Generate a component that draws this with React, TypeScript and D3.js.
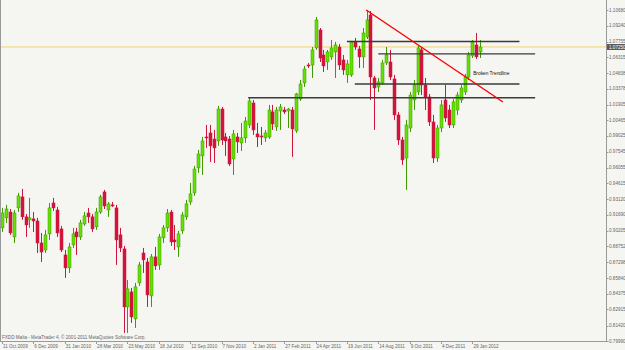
import React from "react";
import * as d3 from "d3";

const opens = [0.9048,0.9141,0.9195,0.8964,0.9233,0.9335,0.9150,0.9122,0.9131,0.9112,0.8908,0.8843,0.8992,0.9279,0.9214,0.9038,0.8797,0.8677,0.8890,0.9010,0.8964,0.9084,0.9186,0.9150,0.9057,0.9195,0.9381,0.9214,0.9261,0.9233,0.8983,0.8853,0.8315,0.8454,0.8204,0.8538,0.8815,0.8732,0.8417,0.8779,0.8704,0.8955,0.9048,0.9195,0.8936,0.8871,0.9020,0.9150,0.9288,0.9372,0.9604,0.9715,0.9891,0.9928,0.9872,0.9854,1.0150,0.9891,0.9872,0.9687,0.9891,0.9835,0.9882,1.0002,1.0206,0.9919,0.9900,0.9882,0.9891,1.0123,0.9984,1.0132,1.0141,1.0132,1.0141,0.9947,1.0243,1.0392,1.0558,1.0558,1.0716,1.0883,1.0651,1.0586,1.0633,1.0679,1.0725,1.0605,1.0466,1.0466,1.0772,1.0707,1.0633,1.0818,1.1022,1.0438,1.0354,1.0392,1.0577,1.0586,1.0429,1.0095,0.9863,0.9696,0.9974,1.0234,1.0308,1.0698,1.0373,1.0262,1.0030,0.9696,0.9974,1.0234,1.0141,1.0002,1.0141,1.0234,1.0308,1.0447,1.0642,1.0744,1.0679];
const highs = [0.9233,0.9261,0.9223,0.9214,0.9372,0.9409,0.9177,0.9326,0.9195,0.9141,0.9001,0.9029,0.9279,0.9326,0.9242,0.9066,0.8843,0.8908,0.9048,0.9048,0.9122,0.9195,0.9233,0.9177,0.9233,0.9354,0.9400,0.9288,0.9288,0.9261,0.9048,0.8881,0.8565,0.8491,0.8538,0.8732,0.8862,0.8769,0.8806,0.8871,0.8992,0.9075,0.9223,0.9214,0.9075,0.9020,0.9195,0.9307,0.9465,0.9622,0.9771,0.9891,1.0002,1.0002,0.9956,1.0178,1.0169,0.9928,0.9900,0.9956,0.9928,1.0021,1.0076,1.0253,1.0234,1.0021,0.9984,0.9956,1.0188,1.0188,1.0169,1.0197,1.0169,1.0160,1.0169,1.0299,1.0419,1.0549,1.0577,1.0725,1.1003,1.0901,1.0698,1.0698,1.0790,1.0772,1.0753,1.0651,1.0605,1.0781,1.0809,1.0735,1.0901,1.1068,1.1059,1.0456,1.0438,1.0605,1.0725,1.0698,1.0466,1.0123,0.9891,1.0049,1.0308,1.0419,1.0735,1.0725,1.0438,1.0290,1.0095,1.0002,1.0234,1.0373,1.0188,1.0243,1.0308,1.0373,1.0475,1.0679,1.0790,1.0855,1.0790];
const lows = [0.9010,0.9094,0.8983,0.8908,0.9195,0.9122,0.8964,0.9048,0.9010,0.8815,0.8732,0.8815,0.8936,0.9205,0.8964,0.8824,0.8584,0.8630,0.8862,0.8797,0.8936,0.9066,0.9094,0.9010,0.9029,0.9177,0.9223,0.9150,0.9242,0.8704,0.8824,0.8074,0.8074,0.8167,0.8120,0.8510,0.8630,0.8315,0.8315,0.8658,0.8658,0.8908,0.9010,0.8881,0.8843,0.8779,0.8992,0.9122,0.9261,0.9344,0.9557,0.9539,0.9789,0.9659,0.9650,0.9808,0.9817,0.9715,0.9622,0.9539,0.9743,0.9761,0.9835,0.9974,0.9910,0.9798,0.9817,0.9845,0.9872,0.9956,0.9947,0.9956,1.0104,0.9974,0.9706,0.9928,1.0225,1.0354,1.0531,1.0438,1.0698,1.0586,1.0494,1.0512,1.0605,1.0438,1.0512,1.0466,1.0392,1.0447,1.0698,1.0531,1.0531,1.0799,1.0234,0.9956,1.0308,1.0373,1.0558,1.0419,1.0049,0.9817,0.9631,0.9400,0.9937,1.0141,1.0280,1.0280,1.0141,0.9993,0.9650,0.9659,0.9937,1.0030,0.9974,0.9974,1.0095,1.0206,1.0280,1.0419,1.0623,1.0614,1.0623];
const closes = [0.9186,0.9223,0.9001,0.9186,0.9344,0.9150,0.9075,0.9141,0.9112,0.8908,0.8824,0.8983,0.9233,0.9233,0.9001,0.8843,0.8677,0.8871,0.8992,0.8964,0.9094,0.9159,0.9150,0.9038,0.9195,0.9335,0.9251,0.9270,0.9251,0.8936,0.8862,0.8315,0.8482,0.8222,0.8501,0.8704,0.8751,0.8426,0.8779,0.8695,0.8964,0.9048,0.9186,0.8918,0.8918,0.8992,0.9168,0.9270,0.9363,0.9594,0.9733,0.9854,0.9882,0.9808,0.9789,1.0150,0.9863,0.9854,0.9641,0.9919,0.9845,0.9882,1.0039,1.0225,0.9956,0.9891,0.9891,0.9928,1.0141,1.0012,1.0141,1.0169,1.0123,1.0150,0.9965,1.0290,1.0382,1.0521,1.0549,1.0698,1.0976,1.0623,1.0549,1.0679,1.0716,1.0744,1.0558,1.0512,1.0568,1.0772,1.0725,1.0633,1.0855,1.0976,1.0447,1.0345,1.0401,1.0577,1.0651,1.0447,1.0095,0.9863,0.9678,1.0002,1.0280,1.0373,1.0716,1.0373,1.0262,1.0030,0.9696,0.9974,1.0188,1.0067,1.0002,1.0216,1.0280,1.0345,1.0447,1.0651,1.0772,1.0633,1.0725];

const dateLabels = ["11 Oct 2009","6 Dec 2009","31 Jan 2010","28 Mar 2010","23 May 2010","18 Jul 2010","12 Sep 2010","7 Nov 2010","2 Jan 2011","27 Feb 2011","24 Apr 2011","19 Jun 2011","14 Aug 2011","9 Oct 2011","4 Dec 2011","29 Jan 2012"];
const dateLabelStep = 8;
const priceLabels = ["1.10680","1.09240","1.07755","1.06315","1.04838","1.03378","1.01905","1.00465","0.99025","0.97545","0.96055","0.94615","0.93120","0.91690","0.90205","0.88752","0.87298","0.85840","0.84375","0.82915","0.81420","0.79990"];
const bidPrice = 1.0725;
const bidLabel = "1.07250";

// support / resistance lines: [fromBar, toBar, price]
const hLines = [
  { from: 88, to: 132, price: 1.0776 },
  { from: 96, to: 136, price: 1.0661 },
  { from: 90, to: 132, price: 1.0382 },
  { from: 62.8, to: 136, price: 1.0255 },
];
const trendLine = { fromBar: 92.9, fromPrice: 1.1068, toBar: 127.8, toPrice: 1.0215 };
const noteText = { bar: 120.2, price: 1.0462, text: "Broken Trendline" };
const footer = "FXDD Malta - MetaTrader 4, © 2001-2011 MetaQuotes Software Corp.";

export default function App() {
  const W = 625, H = 350;
  const right = 606, bottom = 341;
  const x = d3.scaleLinear().domain([0, 122]).range([2, 2 + 3.92 * 122]);
  const y = d3.scaleLinear().domain([0.7999, 1.1068]).range([341, 10]);
  const font = "'Liberation Sans', Arial, sans-serif";
  const fs = 4.6;
  const bull = "#66e000", bullEdge = "#3f9a00", bear = "#d0143c";

  return (
    <div>
      <style>{`body{margin:0;}`}</style>
      <svg width={W} height={H} style={{ display: "block" }}>
        <rect x={0} y={0} width={W} height={H} fill="#f5f5f2" />
        {/* bid line */}
        <line x1={0} x2={right} y1={y(bidPrice)} y2={y(bidPrice)} stroke="#f5d36a" strokeWidth={1} />
        {/* candles */}
        {opens.map((o, i) => {
          const c = closes[i];
          const up = c >= o;
          const cx = Math.round(x(i)) + 0.5;
          const top = y(Math.max(o, c));
          const bot = y(Math.min(o, c));
          const col = up ? bull : bear;
          return (
            <g key={i}>
              <line x1={cx} x2={cx} y1={y(highs[i])} y2={y(lows[i])} stroke={up ? bullEdge : bear} strokeWidth={1} />
              <rect x={cx - 1.5} y={top} width={3} height={Math.max(1, bot - top)} fill={col} stroke={up ? bullEdge : bear} strokeWidth={0.5} />
            </g>
          );
        })}
        {/* horizontal lines */}
        {hLines.map((l, i) => (
          <line key={i} x1={x(l.from)} x2={x(l.to)} y1={y(l.price)} y2={y(l.price)} stroke="#3a3a3a" strokeWidth={1.4} />
        ))}
        {/* trendline */}
        <line x1={x(trendLine.fromBar)} y1={y(trendLine.fromPrice)} x2={x(trendLine.toBar)} y2={y(trendLine.toPrice)} stroke="#ff0000" strokeWidth={1.4} />
        <text x={x(noteText.bar)} y={y(noteText.price)} fontSize={4.8} fontFamily={font} fill="#111">{noteText.text}</text>
        {/* frame */}
        <line x1={0.5} x2={0.5} y1={0} y2={bottom} stroke="#999" />
        <line x1={0} x2={right} y1={bottom + 0.5} y2={bottom + 0.5} stroke="#999" />
        <line x1={right + 0.5} x2={right + 0.5} y1={0} y2={bottom} stroke="#999" />
        {/* price axis */}
        {priceLabels.map((p, i) => (
          <g key={i}>
            <line x1={right} x2={right + 2.5} y1={Math.round(y(+p)) + 0.5} y2={Math.round(y(+p)) + 0.5} stroke="#999" />
            <text x={right + 3} y={y(+p) + 1.6} fontSize={fs} fontFamily={font} fill="#666">{p}</text>
          </g>
        ))}
        <rect x={right + 1} y={y(bidPrice) - 3} width={18} height={6} fill="#5a5a5a" />
        <text x={right + 3} y={y(bidPrice) + 1.6} fontSize={fs} fontFamily={font} fill="#fff">{bidLabel}</text>
        {/* date axis */}
        {dateLabels.map((d, i) => (
          <g key={i}>
            <line x1={Math.round(x(i * dateLabelStep)) + 0.5} x2={Math.round(x(i * dateLabelStep)) + 0.5} y1={bottom} y2={bottom + 3} stroke="#999" />
            <text x={x(i * dateLabelStep) + 1} y={348} fontSize={fs} fontFamily={font} fill="#666">{d}</text>
          </g>
        ))}
        <text x={2} y={338.5} fontSize={fs} fontFamily={font} fill="#666">{footer}</text>
      </svg>
    </div>
  );
}
